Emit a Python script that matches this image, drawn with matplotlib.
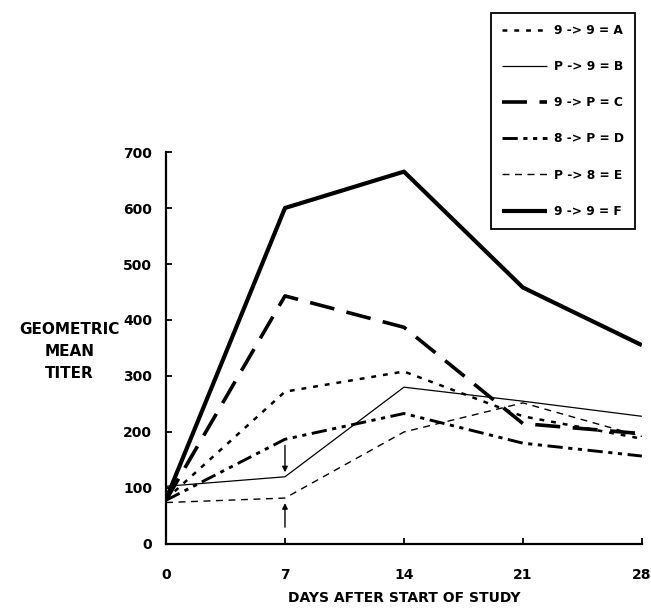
import matplotlib
matplotlib.use("Agg")
import matplotlib.pyplot as plt

plt.rcParams.update({"font.family": "DejaVu Sans", "font.weight": "bold",
                     "lines.scale_dashes": False})

days = [0, 7, 14, 21, 28]
titer_A = [80, 272, 308, 228, 188]
titer_B = [103, 120, 280, 255, 228]
titer_C = [78, 443, 387, 215, 197]
titer_D = [78, 187, 233, 180, 157]
titer_E = [74, 82, 200, 252, 192]
titer_F = [80, 600, 665, 458, 355]
labels = ["9 -> 9 = A", "P -> 9 = B", "9 -> P = C",
          "8 -> P = D", "P -> 8 = E", "9 -> 9 = F"]

# (linewidth, dash pattern) for each group, mimicking the print styles
styles = [
    (1.8, (0, (3.5, 5))),
    (0.9, "-"),
    (2.6, (0, (18, 9))),
    (2.1, (0, (11, 4, 3, 4, 3, 4))),
    (1.0, (0, (5, 4))),
    (3.0, "-"),
]

fig = plt.figure(figsize=(6.51, 6.11), dpi=100)
ax = fig.add_axes([0.255, 0.1097, 0.731, 0.6415])

series = [titer_A, titer_B, titer_C, titer_D, titer_E, titer_F]
for ys, (lw, ls), lbl in zip(series, styles, labels):
    ax.plot(days, ys, color="black", lw=lw, linestyle=ls, label=lbl,
            solid_capstyle="butt", dash_capstyle="butt")

# arrows at day 7
ax.annotate("", xy=(7, 128), xytext=(7, 176),
            arrowprops=dict(arrowstyle="-|>", color="black", lw=1,
                            mutation_scale=8, shrinkA=0, shrinkB=0))
ax.annotate("", xy=(7, 73), xytext=(7, 30),
            arrowprops=dict(arrowstyle="-|>", color="black", lw=1,
                            mutation_scale=8, shrinkA=0, shrinkB=0))

ax.set_xlim(0, 28)
ax.set_ylim(0, 700)
ax.set_xticks(days)
ax.set_yticks(range(0, 701, 100))
ax.spines["top"].set_visible(False)
ax.spines["right"].set_visible(False)
for s in ("left", "bottom"):
    ax.spines[s].set_linewidth(1.6)
ax.tick_params(axis="both", direction="in", length=4, width=1.3)
ax.tick_params(axis="y", labelsize=10, pad=10)
ax.tick_params(axis="x", labelsize=10, pad=17)
ax.set_xlabel("DAYS AFTER START OF STUDY", fontsize=10, fontweight="bold",
              labelpad=7)
fig.text(0.107, 0.425, "GEOMETRIC\nMEAN\nTITER", ha="center", va="center",
         fontsize=11, fontweight="bold", linespacing=1.6)

leg = fig.legend(loc="upper right", bbox_to_anchor=(0.975, 0.979),
                 borderaxespad=0, fontsize=8.8, handlelength=3.7,
                 handletextpad=0.55, labelspacing=1.9, borderpad=0.9,
                 fancybox=False, edgecolor="black", framealpha=1)
leg.get_frame().set_linewidth(1.3)

fig.savefig("out.png", dpi=100)
